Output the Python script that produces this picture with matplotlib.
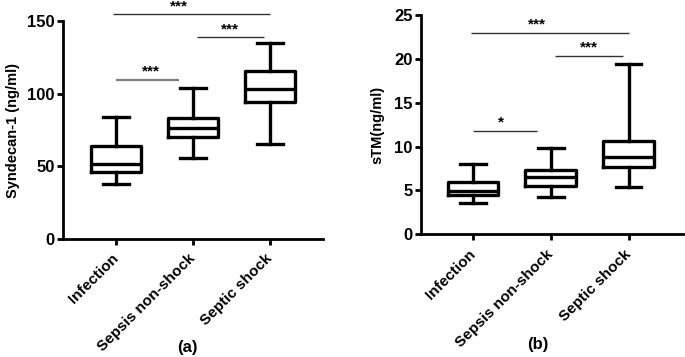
import matplotlib
matplotlib.use("Agg")
import matplotlib.pyplot as plt

plt.rcParams["font.family"] = ["Liberation Sans", "DejaVu Sans"]
plt.rcParams["font.weight"] = "bold"

groups = ["Infection", "Sepsis non-shock", "Septic shock"]

# panel (a) syndecan-1, box summary
syn_low = [37.6, 55.5, 65.6]
syn_q1 = [45.9, 70.4, 94.5]
syn_med = [51.4, 76.2, 103.0]
syn_q3 = [64.2, 83.5, 115.4]
syn_high = [84.2, 103.9, 134.7]

# panel (b) sTM
stm_low = [3.6, 4.3, 5.4]
stm_q1 = [4.45, 5.55, 7.7]
stm_med = [4.9, 6.55, 8.85]
stm_q3 = [6.0, 7.35, 10.6]
stm_high = [8.0, 9.8, 19.4]

# significance brackets: (x start, x end, y, star x, label)
syn_sig_x0 = [0.0, 1.05, -0.04]
syn_sig_x1 = [0.82, 1.92, 2.0]
syn_sig_y = [109.5, 138.8, 154.6]
syn_sig_tx = [0.45, 1.48, 0.82]
syn_sig_txt = ["***", "***", "***"]

stm_sig_x0 = [0.0, 1.06, -0.03]
stm_sig_x1 = [0.82, 1.93, 2.0]
stm_sig_y = [11.78, 20.37, 22.99]
stm_sig_tx = [0.36, 1.49, 0.82]
stm_sig_txt = ["*", "***", "***"]


def make_stats(low, q1, med, q3, high):
    return [
        {"whislo": lo, "q1": a, "med": m, "q3": b, "whishi": hi, "fliers": []}
        for lo, a, m, b, hi in zip(low, q1, med, q3, high)
    ]


def draw_panel(ax, stats, ylim, yticks, ylabel, label_x, sig, sig_colors):
    lw = 2.4
    ax.bxp(
        stats,
        positions=[0, 1, 2],
        widths=0.65,
        capwidths=0.33,
        showfliers=False,
        boxprops=dict(color="black", linewidth=lw),
        medianprops=dict(color="black", linewidth=lw),
        whiskerprops=dict(color="black", linewidth=lw),
        capprops=dict(color="black", linewidth=lw),
    )
    ax.set_ylim(*ylim)
    ax.set_yticks(yticks)
    ax.set_xticks([0, 1, 2])
    ax.set_xticklabels(groups, rotation=45, ha="right", va="center",
                       rotation_mode="anchor", fontsize=11, fontweight="bold")
    for lab in ax.get_yticklabels():
        lab.set_fontsize(12)
        lab.set_fontweight("bold")
    ax.spines["top"].set_visible(False)
    ax.spines["right"].set_visible(False)
    ax.spines["left"].set_linewidth(2)
    ax.spines["bottom"].set_linewidth(2)
    ax.tick_params(axis="both", width=2, length=4.5, direction="out")
    ax.tick_params(axis="x", pad=8)
    ax.tick_params(axis="y", pad=1.5)
    ax.set_ylabel(ylabel, fontsize=10.5, fontweight="bold")
    ax.yaxis.set_label_coords(label_x, 0.5)

    x0s, x1s, ys, txs, txts = sig
    for x0, x1, y, tx, t, c in zip(x0s, x1s, ys, txs, txts, sig_colors):
        ax.plot([x0, x1], [y, y], color=c[0], linewidth=c[1], clip_on=False,
                solid_capstyle="butt")
        ax.annotate(t, xy=(tx, y), xytext=(0, 6), textcoords="offset points",
                    ha="center", va="center", fontsize=11, annotation_clip=False)


fig = plt.figure(figsize=(6.85, 3.57), dpi=100)
ax_a = fig.add_axes([0.092, 0.3305, 0.3796, 0.6106])
ax_b = fig.add_axes([0.6142, 0.3437, 0.383, 0.6143])

draw_panel(
    ax_a,
    make_stats(syn_low, syn_q1, syn_med, syn_q3, syn_high),
    (0, 150), [0, 50, 100, 150], "Syndecan-1 (ng/ml)", -0.165,
    (syn_sig_x0, syn_sig_x1, syn_sig_y, syn_sig_tx, syn_sig_txt),
    [("#7f7f7f", 1.6), ("#333333", 1.0), ("#333333", 1.0)],
)
ax_a.set_xlim(-0.69, 2.69)

draw_panel(
    ax_b,
    make_stats(stm_low, stm_q1, stm_med, stm_q3, stm_high),
    (0, 25), [0, 5, 10, 15, 20, 25], "sTM(ng/ml)", -0.14,
    (stm_sig_x0, stm_sig_x1, stm_sig_y, stm_sig_tx, stm_sig_txt),
    [("#333333", 1.0), ("#333333", 1.0), ("#333333", 1.0)],
)
ax_b.set_xlim(-0.67, 2.70)

fig.text(0.273, 0.028, "(a)", ha="center", va="center", fontsize=12, fontweight="bold")
fig.text(0.785, 0.034, "(b)", ha="center", va="center", fontsize=12, fontweight="bold")

fig.savefig("out.png", dpi=100)
